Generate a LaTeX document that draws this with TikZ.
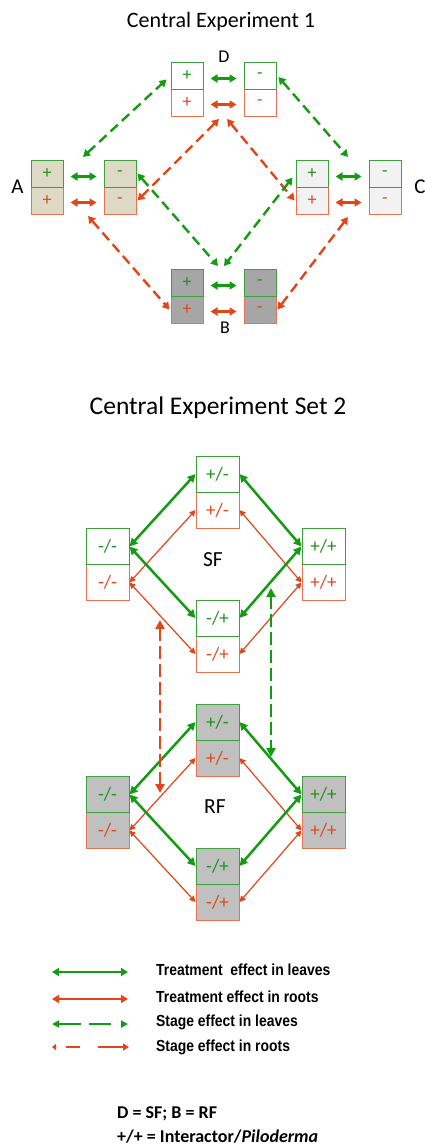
\documentclass[tikz,border=0pt]{standalone}
\usepackage{fontspec}
\setmainfont{Carlito}
\newfontfamily\legfont[FakeStretch=0.87]{Liberation Sans}
\usetikzlibrary{arrows.meta}
\definecolor{grn}{RGB}{30,145,30}
\definecolor{gline}{RGB}{20,155,20}
\definecolor{rd}{RGB}{225,70,25}
\definecolor{gbord}{RGB}{60,160,60}
\definecolor{rbord}{RGB}{235,115,85}
\definecolor{beige}{RGB}{221,217,196}
\definecolor{lgray}{RGB}{242,242,242}
\definecolor{mgray}{RGB}{166,166,166}
\definecolor{sgray}{RGB}{192,192,192}
\begin{document}
\begin{tikzpicture}[x=1pt,y=-1pt,
  sg/.style={draw=gbord,line width=1pt,minimum width=32pt,minimum height=27pt,inner sep=0pt,text=grn,font=\fontsize{18}{18}\selectfont},
  sr/.style={sg,draw=rbord,text=rd},
  bgx/.style={draw=gbord,line width=1pt,minimum width=43pt,minimum height=36pt,inner sep=0pt,text=grn,font=\fontsize{19}{19}\selectfont},
  brx/.style={bgx,draw=rbord,text=rd},
  lab/.style={inner sep=0pt,font=\fontsize{18}{18}\selectfont},
  ttl/.style={inner sep=0pt,font=\fontsize{22}{22}\selectfont},
  hg/.style={draw=gline,line width=2.4pt,<->,>={Triangle[length=7pt,width=8pt]}},
  hr/.style={hg,draw=rd},
  dg/.style={hg,dash pattern=on 10pt off 5.5pt},
  dr/.style={dg,draw=rd},
  tg/.style={draw=gline,line width=2.5pt,<->,>={Triangle[length=8pt,width=8pt]}},
  tr/.style={draw=rd,line width=1.2pt,<->,>={Triangle[length=6pt,width=6pt]}},
  vg/.style={draw=gline,line width=2.5pt,dash pattern=on 13pt off 5pt,<->,>={Triangle[length=9pt,width=9pt]}},
  vr/.style={vg,draw=rd},
  legtxt/.style={anchor=west,inner sep=0pt,font=\legfont\bfseries\fontsize{16}{16}\selectfont},
  foot/.style={anchor=west,inner sep=0pt,font=\bfseries\fontsize{18}{18}\selectfont}]
\useasboundingbox (0,0) rectangle (425,1146);

% ---------- Central Experiment 1 ----------
\node[ttl] (t1) at (221,22) {Central Experiment 1};

% boxes: red halves first, green halves on top
\foreach \n/\x/\yg/\f/\s in {A1/47/173.5/beige/+,A2/120/173.5/beige/-,C1/312/173.5/lgray/+,C2/385/173.5/lgray/-,
                          D1/187/75.5/white/+,D2/260/75.5/white/-,B1/187/282.5/mgray/+,B2/260/282.5/mgray/-}{
  \node[sr,fill=\f] (\n r) at (\x,\yg+27) {\s};
  \node[sg,fill=\f] (\n g) at (\x,\yg) {\s};
}

\node[lab] (labD) at (224,57) {D};
\node[lab,font=\fontsize{21}{21}\selectfont] (labA) at (17.5,187) {A};
\node[lab] (labB) at (225,327.5) {B};
\node[lab,font=\fontsize{21}{21}\selectfont] (labC) at (420,187) {C};

% horizontal treatment arrows
\foreach \p in {A,C,D,B}{
  \draw[hg] ([xshift=7pt,yshift=-3pt]\p1g.east) -- ([xshift=-7pt,yshift=-3pt]\p2g.west);
  \draw[hr] ([xshift=7pt,yshift=-2pt]\p1r.east) -- ([xshift=-7pt,yshift=-2pt]\p2r.west);
}

% free ends of stage arrows
\coordinate (Atop) at (83,157);
\coordinate (Ctop) at (348,157);
\coordinate (Dbl) at (219,119);
\coordinate (Dbr) at (227,119);
\coordinate (Btl) at (218,266);
\coordinate (Btr) at (224,266);
\coordinate (Abot) at (88,216);
\coordinate (Cbot) at (348,217);

\draw[dg] (Atop) -- ([xshift=-4pt,yshift=-4pt]D1g.west);
\draw[dg] ([xshift=2pt,yshift=-1.5pt]D2g.east) -- (Ctop);
\draw[dr] (Dbl) -- ([xshift=1pt]A2r.east);
\draw[dr] (Dbr) -- ([xshift=-1pt]C1r.west);
\draw[dg] ([xshift=1pt]A2g.east) -- (Btl);
\draw[dg] ([xshift=-3pt,yshift=-4pt]C1g.west) -- (Btr);
\draw[dr] (Abot) -- ([xshift=-1pt]B1r.west);
\draw[dr] (Cbot) -- ([xshift=1pt]B2r.east);

% ---------- Central Experiment Set 2 ----------
\node[ttl,font=\fontsize{25.5}{25.5}\selectfont] (t2) at (218,408) {Central Experiment Set 2};

\foreach \p/\dy/\f in {S/0/white,R/248/sgray}{
  \node[brx,fill=\f] (\p-Tr) at (217.5,510+\dy) {+/-};
  \node[bgx,fill=\f] (\p-Tg) at (217.5,474+\dy) {+/-};
  \node[brx,fill=\f] (\p-Lr) at (107.5,582.5+\dy) {-/-};
  \node[bgx,fill=\f] (\p-Lg) at (107.5,546.5+\dy) {-/-};
  \node[brx,fill=\f] (\p-Rr) at (323.5,582.5+\dy) {+/+};
  \node[bgx,fill=\f] (\p-Rg) at (323.5,546.5+\dy) {+/+};
  \node[brx,fill=\f] (\p-Br) at (217.5,654+\dy) {-/+};
  \node[bgx,fill=\f] (\p-Bg) at (217.5,618+\dy) {-/+};
  \draw[tr] (\p-Lr.east) -- (\p-Tr.west);
  \draw[tr] (\p-Tr.east) -- (\p-Rr.west);
  \draw[tr] (\p-Lr.east) -- (\p-Br.west);
  \draw[tr] (\p-Rr.west) -- (\p-Br.east);
  \draw[tg] (\p-Lg.east) -- (\p-Tg.west);
  \draw[tg] (\p-Tg.east) -- (\p-Rg.west);
  \draw[tg] (\p-Lg.east) -- (\p-Bg.west);
  \draw[tg] (\p-Rg.west) -- (\p-Bg.east);
}
\node[lab,font=\fontsize{21.5}{21.5}\selectfont] (labSF) at (213,560) {SF};
\node[lab,font=\fontsize{21.5}{21.5}\selectfont] (labRF) at (215,807) {RF};

\coordinate (vr1) at (160,620);
\coordinate (vr2) at (160,793);
\coordinate (vg1) at (271,588);
\coordinate (vg2) at (271,757);
\draw[vr] (vr1) -- (vr2);
\draw[vg] (vg1) -- (vg2);

% ---------- legend ----------
\coordinate (l1a) at (52,972);  \coordinate (l1b) at (128,972);
\coordinate (l2a) at (52,999);  \coordinate (l2b) at (128,999);
\coordinate (l3a) at (52,1024); \coordinate (l3b) at (128,1024);
\coordinate (l4a) at (52,1047); \coordinate (l4b) at (129,1047);
\draw[hg,line width=2pt] (l1a) -- (l1b);
\draw[hr,line width=2pt] (l2a) -- (l2b);
\draw[draw=gline,line width=2pt,<->,>={Triangle[length=7pt,width=7pt]},dash pattern=on 22pt off 8pt on 22pt off 10pt] (l3a) -- (l3b);
\draw[draw=rd,line width=2pt,{Triangle[length=4pt,width=6pt]}-{Triangle[length=6pt,width=7pt]},dash pattern=on 14pt off 18pt on 27pt off 10pt,dash phase=59pt] (l4a) -- (l4b);
\node[legtxt] (lt1) at (156,970) {Treatment~ effect in leaves};
\node[legtxt] (lt2) at (156,997) {Treatment effect in roots};
\node[legtxt] (lt3) at (156,1022) {Stage effect in leaves};
\node[legtxt] (lt4) at (156,1047) {Stage effect in roots};

% ---------- footnote ----------
\node[foot] (f1) at (117,1114) {D = SF; B = RF};
\node[foot] (f2) at (117,1137) {+/+ = Interactor/\textit{Piloderma}};
\end{tikzpicture}
\end{document}
